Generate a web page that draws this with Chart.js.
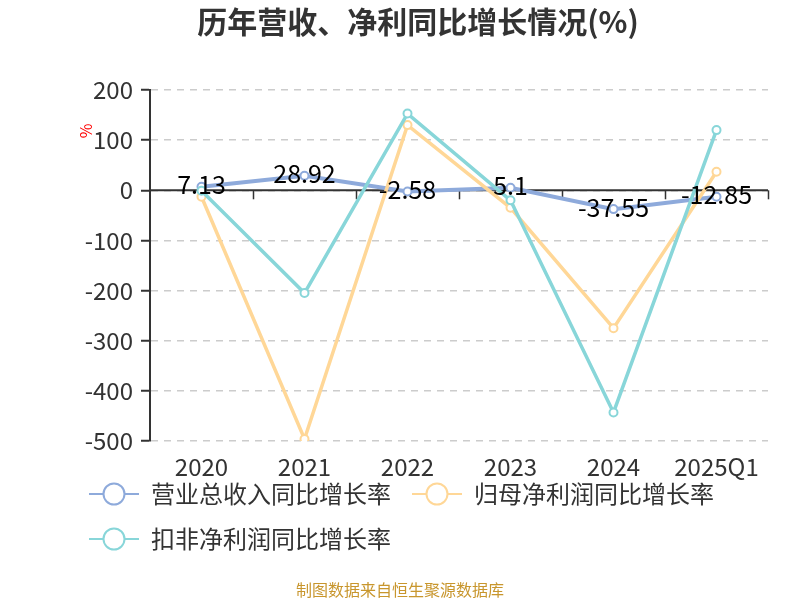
<!DOCTYPE html>
<html>
<head>
<meta charset="utf-8">
<script src="https://cdn.jsdelivr.net/npm/chart.js@4.4.1/dist/chart.umd.min.js"></script>
<style>
html,body{margin:0;padding:0;background:#fff;}
#wrap{width:800px;height:600px;position:relative;}
</style>
</head>
<body>
<div id="wrap"><canvas id="c" width="800" height="600"></canvas></div>
<script>
const categories = ['2020', '2021', '2022', '2023', '2024', '2025Q1'];
const revenueGrowth = [7.13, 28.92, -2.58, 5.1, -37.55, -12.85];
const netProfitGrowth = [-13, -496, 130, -35, -275, 37];
const deductedNetProfitGrowth = [-1, -205, 153, -20, -443, 120];
const seriesNames = ['营业总收入同比增长率', '归母净利润同比增长率', '扣非净利润同比增长率'];
const yMin = -500, yMax = 200, yStep = 100;

const FONT = '"Noto Sans CJK SC", "Noto Sans", sans-serif';
Chart.defaults.font.family = FONT;
Chart.defaults.color = '#333';

const colors = ['#8eaadb', '#ffd797', '#88d6d9'];
const lineWidths = [4, 3.5, 3.5];

function makeIcon(color) {
  const c = document.createElement('canvas');
  c.width = 50; c.height = 26;
  const g = c.getContext('2d');
  g.strokeStyle = color; g.lineWidth = 2;
  g.beginPath(); g.moveTo(0, 13); g.lineTo(50, 13); g.stroke();
  g.beginPath(); g.arc(25, 13, 10.5, 0, Math.PI * 2);
  g.fillStyle = '#fff'; g.fill(); g.stroke();
  return c;
}
const icons = colors.map(makeIcon);

function ds(label, data, color, width, order) {
  return {
    label, data, order,
    borderColor: color, backgroundColor: '#fff',
    borderWidth: width, tension: 0,
    pointRadius: 4, pointBorderWidth: 2, pointBackgroundColor: '#fff', pointBorderColor: color,
    pointHoverRadius: 4
  };
}

const extras = {
  id: 'extras',
  afterLayout(chart) {
    const lg = chart.legend;
    if (lg && !lg._shifted) {
      lg.top -= 25; lg.bottom -= 25;
      lg._shifted = true;
    }
  },
  beforeDatasetsDraw(chart) {
    const {ctx, chartArea, scales} = chart;
    const y0 = scales.y.getPixelForValue(0);
    ctx.save();
    ctx.strokeStyle = '#333'; ctx.lineWidth = 2;
    ctx.beginPath(); ctx.moveTo(chartArea.left, y0); ctx.lineTo(chartArea.right, y0); ctx.stroke();
    ctx.lineWidth = 1.5;
    const n = categories.length;
    for (let i = 1; i <= n; i++) {
      const x = i < n ? (scales.x.getPixelForValue(i - 1) + scales.x.getPixelForValue(i)) / 2 : chartArea.right;
      const xx = Math.round(x) + 0.5;
      ctx.beginPath(); ctx.moveTo(xx, y0); ctx.lineTo(xx, y0 + 9); ctx.stroke();
    }
    ctx.restore();
  },
  afterDatasetsDraw(chart) {
    const {ctx} = chart;
    const meta = chart.getDatasetMeta(0);
    ctx.save();
    ctx.font = '25px ' + FONT;
    ctx.fillStyle = '#000';
    ctx.textAlign = 'center'; ctx.textBaseline = 'middle';
    meta.data.forEach((pt, i) => {
      ctx.fillText(String(revenueGrowth[i]), pt.x, pt.y - 2);
    });
    ctx.restore();
  },
  afterDraw(chart) {
    const {ctx} = chart;
    ctx.save();
    ctx.translate(86, 131);
    ctx.rotate(-Math.PI / 2);
    ctx.font = '16px ' + FONT;
    ctx.fillStyle = '#ff0000';
    ctx.textAlign = 'center'; ctx.textBaseline = 'middle';
    ctx.fillText('%', 0, 0);
    ctx.restore();
    ctx.save();
    ctx.font = '16px ' + FONT;
    ctx.fillStyle = '#c8962d';
    ctx.textAlign = 'center'; ctx.textBaseline = 'middle';
    ctx.fillText('制图数据来自恒生聚源数据库', 400, 590);
    ctx.restore();
  }
};

new Chart(document.getElementById('c'), {
  type: 'line',
  data: {
    labels: categories,
    datasets: [
      ds(seriesNames[0], revenueGrowth, colors[0], lineWidths[0], 2),
      ds(seriesNames[1], netProfitGrowth, colors[1], lineWidths[1], 1),
      ds(seriesNames[2], deductedNetProfitGrowth, colors[2], lineWidths[2], 0)
    ]
  },
  options: {
    responsive: false,
    animation: false,
    events: [],
    layout: {padding: {left: 68, right: 32, top: 0, bottom: 14}},
    scales: {
      x: {
        offset: true,
        grid: {display: false, drawTicks: false},
        border: {display: false},
        ticks: {font: {size: 24}, color: '#333', padding: 11, autoSkip: false, maxRotation: 0},
        afterFit(s) { s.height = 45; }
      },
      y: {
        min: yMin, max: yMax,
        ticks: {stepSize: yStep, font: {size: 24}, color: '#333', padding: 8},
        grid: {color: '#cccccc', lineWidth: 1.5, tickColor: '#333', tickLength: 9, tickWidth: 2},
        border: {display: true, color: '#333', width: 2, dash: [7, 6]},
        afterFit(s) { s.width = 82; }
      }
    },
    plugins: {
      title: {
        display: true,
        text: '历年营收、净利同比增长情况(%)',
        font: {size: 30, weight: 'bold'},
        color: '#333',
        padding: {top: 4, bottom: 50}
      },
      legend: {
        position: 'bottom',
        align: 'start',
        labels: {
          font: {size: 24},
          color: '#333',
          padding: 21,
          usePointStyle: true,
          pointStyleWidth: 50,
          generateLabels(chart) {
            return chart.data.datasets.map((d, i) => ({
              text: d.label,
              pointStyle: icons[i],
              fillStyle: '#fff',
              strokeStyle: colors[i],
              lineWidth: 0,
              hidden: false,
              datasetIndex: i,
              fontColor: '#333'
            }));
          }
        }
      },
      tooltip: {enabled: false}
    }
  },
  plugins: [extras]
});
</script>
</body>
</html>
